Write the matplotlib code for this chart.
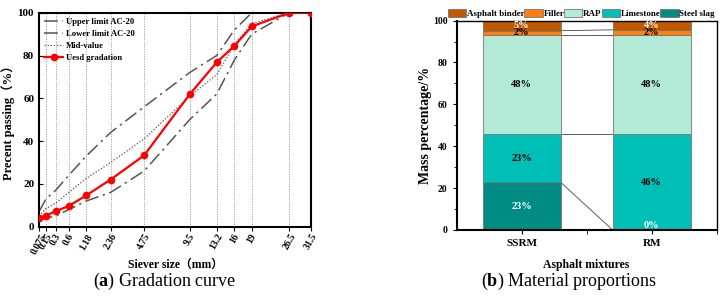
import matplotlib
matplotlib.use("Agg")
import matplotlib.pyplot as plt
import numpy as np
from matplotlib.patches import Patch

# sieve sizes (mm) and passing (%)
sieves = [0.075, 0.15, 0.3, 0.6, 1.18, 2.36, 4.75, 9.5, 13.2, 16, 19, 26.5, 31.5]
sieve_labels = ["0.075", "0.15", "0.3", "0.6", "1.18", "2.36", "4.75", "9.5", "13.2", "16", "19", "26.5", "31.5"]
upper = [7, 13, 17, 24, 33, 44, 56, 72, 80, 92, 100, 100, 100]
lower = [3, 4, 5, 8, 12, 16, 26, 50, 62, 78, 90, 100, 100]
mid = [5, 8.5, 11, 16, 22.5, 30, 41, 61, 71, 85, 95, 100, 100]
used = [4.3, 5.2, 7.2, 9.7, 14.6, 22, 33.3, 61.8, 76.8, 84.6, 93.6, 100, 100]

# material proportions (%)
mixtures = ["SSRM", "RM"]
components = ["Asphalt binder", "Filler", "RAP", "Limestone", "Steel slag"]
steel_slag = [22.8, 0]
limestone = [22.9, 45.7]
rap = [47.6, 47.6]
filler = [1.9, 2.3]
binder = [4.8, 4.4]

serif = ["Liberation Serif", "Noto Sans CJK SC"]
plt.rcParams["font.family"] = serif
plt.rcParams["font.weight"] = "bold"
plt.rcParams["mathtext.fontset"] = "custom"
plt.rcParams["mathtext.rm"] = "Liberation Serif"
plt.rcParams["mathtext.bf"] = "Liberation Serif:bold"

fig = plt.figure(figsize=(7.26, 2.99), dpi=100)

# ---------- (a) gradation curve
ax1 = fig.add_axes([0.0537, 0.2418, 0.3747, 0.7157])
p = 0.45
ax1.set_xscale("function", functions=(lambda x: np.sign(x) * np.abs(x) ** p,
                                      lambda x: np.sign(x) * np.abs(x) ** (1 / p)))
for s in sieves:
    ax1.axvline(s, color="#999999", lw=0.6, ls=(0, (1.5, 1.5)), zorder=0)
ax1.plot(sieves, upper, color="#555555", lw=1.1, ls=(0, (9, 3, 1.5, 3)), label="Upper limit AC-20")
ax1.plot(sieves, lower, color="#555555", lw=1.1, ls=(0, (9, 3, 1.5, 3)), label="Lower limit AC-20")
ax1.plot(sieves, mid, color="#555555", lw=0.9, ls=(0, (1, 1.5)), label="Mid-value")
ax1.plot(sieves, used, color="#ff0000", lw=1.6, marker="o", ms=4.5, label="Uesd gradation", zorder=5)
ax1.set_xlim(0.075, 31.5)
ax1.set_ylim(0, 100)
ax1.set_xticks(sieves)
ax1.set_xticklabels(sieve_labels, rotation=60, fontsize=7, fontweight="bold")
ax1.minorticks_off()
ax1.set_yticks([0, 20, 40, 60, 80, 100])
ax1.tick_params(axis="y", labelsize=8, direction="in", length=3)
ax1.tick_params(axis="x", direction="out", length=3, pad=1)
for sp in ax1.spines.values():
    sp.set_linewidth(1.5)
ax1.set_xlabel("Siever size（mm）", fontsize=8.5, fontweight="bold", labelpad=2)
ax1.set_ylabel("Precent passing（%）", fontsize=9, fontweight="bold", labelpad=2)
leg = ax1.legend(loc="upper left", fontsize=6.2, frameon=False, handlelength=2.2,
                 borderaxespad=0.2, labelspacing=0.45, handletextpad=0.3)

# ---------- (b) material proportions
ax2 = fig.add_axes([0.629, 0.231, 0.358, 0.7])
colors = ["#c05a00", "#ff7f0e", "#b2e9d7", "#00bfb6", "#008c82"]
stack = [steel_slag, limestone, rap, filler, binder]
stack_colors = colors[::-1]
text_colors = ["white", "black", "black", "black", "white"]
xpos = np.arange(len(mixtures))
w = 0.6
bottom = np.zeros(len(mixtures))
tops = []
for vals, c, tc in zip(stack, stack_colors, text_colors):
    vals = np.array(vals, dtype=float)
    ax2.bar(xpos, vals, w, bottom=bottom, color=c, edgecolor="#777777", lw=0.6, zorder=2)
    for i, v in enumerate(vals):
        y = bottom[i] + v / 2
        ax2.text(xpos[i], y if v > 0 else 0.2, f"{round(v):d}%", ha="center",
                 va="center" if v > 0 else "bottom", fontsize=7.5, color=tc, zorder=4)
    bottom = bottom + vals
    tops.append(bottom.copy())
for t in tops:
    ax2.plot([xpos[0] + w / 2, xpos[1] - w / 2], [t[0], t[1]], color="#444444", lw=0.6, zorder=1)
ax2.set_xlim(-0.5, 1.5)
ax2.set_ylim(0, 100)
ax2.set_xticks(xpos)
ax2.set_xticklabels(mixtures, fontsize=8, fontweight="bold")
ax2.set_xticks([0.5, 1.5], minor=True)
ax2.set_yticks([0, 20, 40, 60, 80, 100])
ax2.set_yticks(np.arange(10, 100, 20), minor=True)
ax2.tick_params(axis="y", labelsize=7, direction="out", length=3)
ax2.tick_params(axis="y", which="minor", direction="out", length=2)
ax2.tick_params(axis="x", which="both", direction="out", length=3)
for sp in ax2.spines.values():
    sp.set_linewidth(1.0)
ax2.spines["left"].set_linewidth(1.5)
ax2.spines["bottom"].set_linewidth(1.5)
ax2.set_xlabel("Asphalt mixtures", fontsize=8.5, fontweight="bold", labelpad=8)
ax2.set_ylabel("Mass percentage/%", fontsize=10, fontweight="bold", labelpad=1)
handles = [Patch(facecolor=c, edgecolor="#777777", lw=0.6) for c in colors]
ax2.legend(handles, components, loc="lower center", bbox_to_anchor=(0.48, 0.995), ncol=5,
           fontsize=6.5, frameon=False, handlelength=2.0, handleheight=1.1,
           columnspacing=0.0, handletextpad=0.1, borderaxespad=0.0)

# captions
fig.text(0.2266, 0.058, r"($\mathbf{a}$) Gradation curve", ha="center", va="center",
         fontsize=13, fontweight="normal", family=serif)
fig.text(0.7835, 0.058, r"($\mathbf{b}$) Material proportions", ha="center", va="center",
         fontsize=13, fontweight="normal", family=serif)

fig.savefig("out.png", dpi=100)
